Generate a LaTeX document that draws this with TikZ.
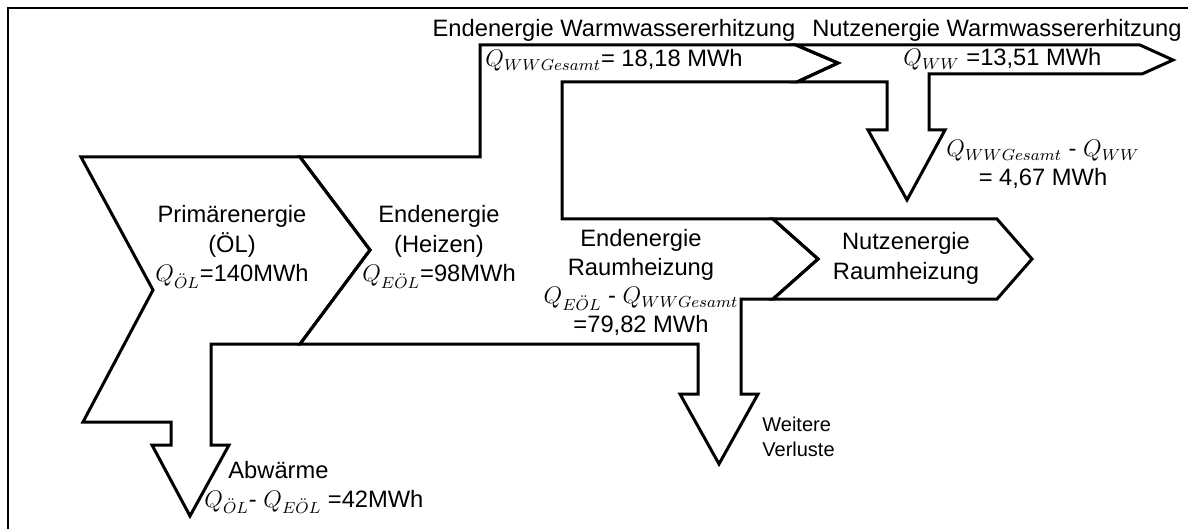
\documentclass[tikz,border=0pt]{standalone}
\usepackage{fontspec}
\setmainfont{Liberation Sans}
\tikzset{
	band/.style={draw=black, line width=1.5pt},
	txt/.style={align=center, inner sep=0pt, anchor=base, font=\fontsize{11.85}{14.75}\selectfont},
	smalltxt/.style={align=left, inner sep=0pt, anchor=base west, font=\fontsize{10}{12.5}\selectfont}
}
\begin{document}
\begin{tikzpicture}[x=0.5pt,y=-0.5pt]
		\useasboundingbox (0,0) rectangle (1188,529);
		\draw[line width=1pt] (8,529) -- (8,8) -- (1188,8);
		% primaerenergie und abwaerme
		\draw[band] (81,157) -- (300,157) -- (370,250) -- (300,344) -- (211,344) -- (211,445) -- (229,445) -- (190,516) -- (152,445) -- (171,445) -- (171,422) -- (83,422) -- (153,290) -- cycle;
		% endenergie heizen
		\draw[band] (300,157) -- (480,157) -- (480,45) -- (796,45) -- (838,63) -- (797,82) -- (562,82) -- (562,219) -- (773,219) -- (818,259) -- (773,299) -- (741,299) -- (741,394) -- (758,394) -- (719,464) -- (680,394) -- (698,394) -- (698,344) -- (300,344) -- (370,250) -- cycle;
		% nutzenergie warmwasser
		\draw[band] (796,45) -- (1140,45) -- (1173,60) -- (1142,74) -- (929,74) -- (929,130) -- (945,130) -- (907,200) -- (868,130) -- (887,130) -- (887,82) -- (797,82) -- (838,63) -- cycle;
		% nutzenergie raumheizung
		\draw[band] (773,219) -- (997,219) -- (1032,259) -- (997,299) -- (773,299) -- (818,259) -- cycle;
		% base = baseline of the last line
		\node[txt] (prim) at (232,282) {Primärenergie\\(ÖL)\\$Q_{\ddot{O}L}$=140MWh};
		\node[txt] (end) at (439,282) {Endenergie\\(Heizen)\\$Q_{E\ddot{O}L}$=98MWh};
		\node[txt] (endww) at (614,37) {Endenergie Warmwassererhitzung};
		\node[txt] (nutzww) at (997,37) {Nutzenergie Warmwassererhitzung};
		\node[txt, anchor=base west] (qwwg) at (485,67) {$Q_{WWGesamt}$= 18,18 MWh};
		\node[txt, anchor=base west] (qww) at (903,66) {$Q_{WW}$ =13,51 MWh};
		\node[txt] (verlww) at (1043,186) {$Q_{WWGesamt}$ - $Q_{WW}$\\= 4,67 MWh};
		\node[txt, font=\fontsize{11.85}{14.2}\selectfont] (endrh) at (641,332) {Endenergie\\Raumheizung\\$Q_{E\ddot{O}L}$ - $Q_{WWGesamt}$\\=79,82 MWh};
		\node[txt] (nutzrh) at (906,279) {Nutzenergie\\Raumheizung};
		\node[smalltxt] (verl) at (762,456) {Weitere\\Verluste};
		\node[txt, anchor=base west] (abw) at (228,478) {Abwärme};
		\node[txt, anchor=base west] (qabw) at (204,507) {$Q_{\ddot{O}L}$- $Q_{E\ddot{O}L}$ =42MWh};
	\end{tikzpicture}
\end{document}
